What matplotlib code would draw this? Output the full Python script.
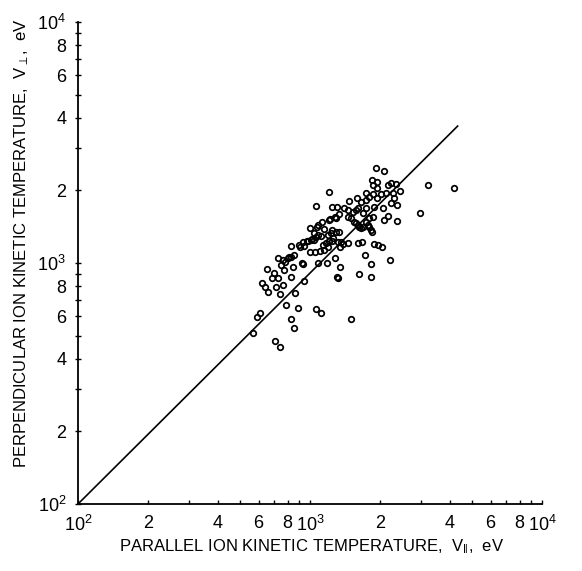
import matplotlib
matplotlib.use("Agg")
import matplotlib.pyplot as plt
from matplotlib.ticker import FixedLocator, NullFormatter

plt.rcParams['font.family'] = ['Liberation Sans', 'DejaVu Sans']
plt.rcParams['mathtext.fontset'] = 'custom'
plt.rcParams['mathtext.rm'] = 'Liberation Sans'
plt.rcParams['mathtext.it'] = 'Liberation Sans'

# parallel ion kinetic temperature (eV)
t_par = [
    1403, 1460, 1460, 1504, 1550, 1581, 1613, 1629, 1662, 1695, 1747, 1782, 1800, 1836, 1855,
    1800, 1873, 1747, 1613, 1581, 1662, 1747, 1800, 1873, 1949, 2029, 2132, 2287, 2310, 2380,
    2242, 2069, 1892, 1949, 1873, 1855, 1949, 2176, 2242, 2357, 2452, 2176, 2090, 2380, 2990,
    3210, 4160, 1460, 1613, 1678, 1892, 1968, 2049, 1729, 1836, 2220, 1629, 1836, 1930, 2090,
    1475, 1597, 1504, 1390, 1747, 1695, 1534,
    1208, 1062, 1245, 1309, 1208, 1296, 1127, 1072, 1000, 1150, 1245, 1296, 1336, 1233, 1116,
    1196, 1062, 1020, 971, 933, 1041, 1245, 1322, 828, 905, 942, 1138, 1196, 1349, 1000,
    1051, 1105, 1150, 853, 828, 803, 727, 780, 749, 844, 933, 1083, 1184, 1283, 1349,
    651, 699, 772, 685, 727, 828, 942, 1322, 620, 639, 658, 713, 764, 742, 861,
    608, 590, 787, 887, 1062, 1116, 828, 853, 567, 706, 742,
    1220, 1283, 1083, 1041, 1083, 1258, 1208, 1173, 980, 1010, 896, 1362, 1336,
    764, 811, 923, 1309,
]
# perpendicular ion kinetic temperature (eV)
t_perp = [
    1690, 1660, 1550, 1540, 1480, 1470, 1440, 1410, 1400, 1410, 1480, 1440, 1410, 1370, 1345,
    1540, 1550, 1690, 1690, 1660, 1790, 1830, 1880, 1930, 1860, 1930, 1950, 1950, 1860, 1740,
    1770, 1690, 1710, 2050, 2110, 2210, 2170, 2110, 2150, 2130, 1990, 1570, 1510, 1490, 1610,
    2110, 2050, 1210, 1210, 1220, 1200, 1190, 1165, 1080, 990, 1030, 900, 875, 2480, 2410,
    1810, 1860, 586, 1200, 1950, 1610, 1630,
    1970, 1720, 1710, 1710, 1510, 1540, 1480, 1410, 1400, 1380, 1370, 1345, 1345, 1330, 1295,
    1310, 1280, 1260, 1235, 1220, 1245, 1235, 1220, 1175, 1165, 1175, 1190, 1165, 1165, 1110,
    1110, 1120, 1130, 1080, 1060, 1050, 1050, 1010, 981, 962, 990, 1000, 1000, 1050, 962,
    944, 909, 935, 866, 866, 875, 842, 866, 826, 795, 758, 795, 810, 744, 751,
    620, 597, 669, 650, 644, 620, 586, 537, 512, 475, 448,
    1520, 1550, 1440, 1330, 1310, 1270, 1235, 1210, 1235, 1245, 1190, 1220, 1600,
    1030, 1060, 1000, 875,
]

# reference line end points (eV)
line_par = [100, 4330]
line_perp = [100, 3700]

major_ticks = [100, 200, 400, 600, 800, 1000, 2000, 4000, 6000, 8000, 10000]
major_labels = [r'$10^2$', '2', '4', '6', '8', r'$10^3$', '2', '4', '6', '8', r'$10^4$']
minor_ticks = [300, 500, 700, 900, 3000, 5000, 7000, 9000]

fig = plt.figure(figsize=(5.82, 5.71), dpi=100)
ax = fig.add_axes([78/582, 67/571, 464/582, 482/571])

ax.plot(line_par, line_perp, color='black', lw=1.2, zorder=2)
ax.plot(t_par, t_perp, linestyle='none', marker='o', markersize=4.0,
        markerfacecolor='none', markeredgecolor='black', markeredgewidth=1.25, zorder=3)

ax.set_xscale('log')
ax.set_yscale('log')
ax.set_xlim(100, 10000)
ax.set_ylim(100, 10000)

for axis in (ax.xaxis, ax.yaxis):
    axis.set_major_locator(FixedLocator(major_ticks))
    axis.set_minor_locator(FixedLocator(minor_ticks))
    axis.set_minor_formatter(NullFormatter())
ax.set_xticklabels(major_labels)
ax.set_yticklabels(major_labels)

ax.spines['top'].set_visible(False)
ax.spines['right'].set_visible(False)
ax.spines['left'].set_linewidth(1.3)
ax.spines['bottom'].set_linewidth(1.3)

ax.tick_params(axis='y', which='both', direction='inout', length=5, width=1.0,
               labelsize=13, pad=6)
ax.tick_params(axis='x', which='both', direction='in', length=3, width=1.0,
               labelsize=13, pad=8)

ax.set_xlabel(r'PARALLEL ION KINETIC TEMPERATURE,  V$_{\Vert}$,  eV', fontsize=12, va='center')
ax.xaxis.set_label_coords(0.504, -0.089)
ax.set_ylabel(r'PERPENDICULAR ION KINETIC TEMPERATURE,  V$_{\perp}$,  eV', fontsize=12, va='center')
ax.yaxis.set_label_coords(-0.121, 0.541)

fig.savefig('out.png', dpi=100)
